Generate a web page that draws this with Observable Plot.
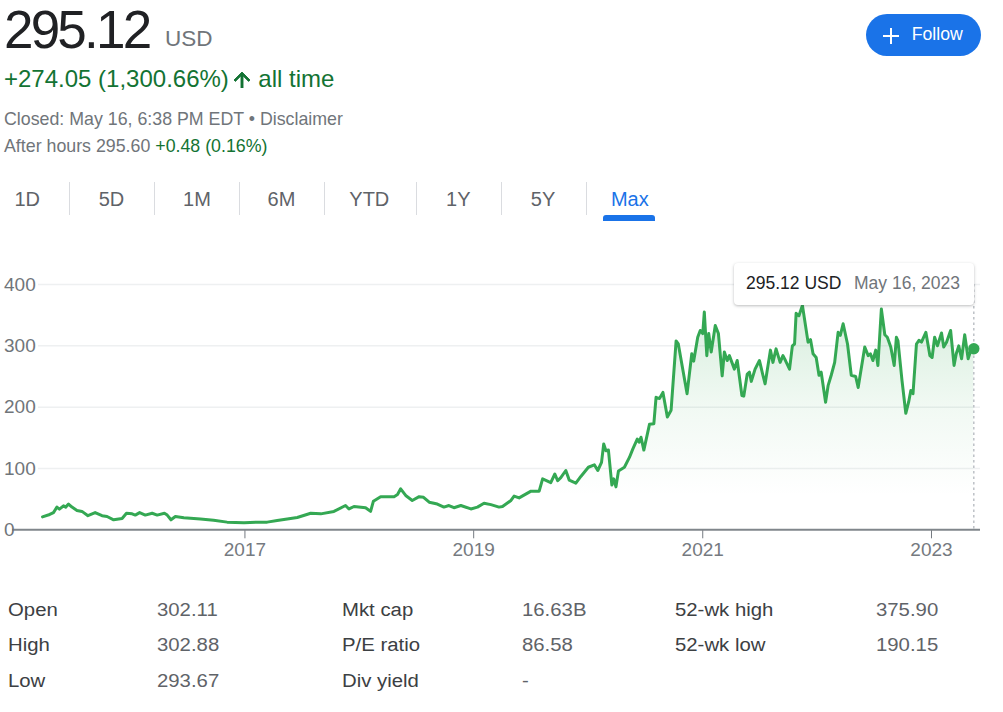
<!DOCTYPE html>
<html><head><meta charset="utf-8">
<script src="https://cdn.jsdelivr.net/npm/d3@7"></script>
<script src="https://cdn.jsdelivr.net/npm/@observablehq/plot@0.6"></script>
<style>
body{margin:0;width:1003px;height:712px;overflow:hidden;background:#fff;font-family:Arial,"Liberation Sans",sans-serif;position:relative}
.a{position:absolute;white-space:nowrap;line-height:1}
.sep{position:absolute;top:182px;width:1px;height:33px;background:#dadce0}
.tab{position:absolute;top:188.8px;width:80px;text-align:center;font-size:20px;color:#5f6368;line-height:1}
#chart{position:absolute;left:0;top:240px}
.lab{color:#3c4043}
.val{color:#5f6368}
.st{position:absolute;white-space:nowrap;line-height:1;font-size:18px;transform:scaleX(1.13);transform-origin:left center}
</style></head><body>
<div class="a" style="left:4px;top:3.4px;font-size:53px;color:#202124;letter-spacing:-2.8px">295.12</div>
<div class="a" style="left:165px;top:27.7px;font-size:22.5px;color:#70757a">USD</div>
<div class="a" style="left:4px;top:67.2px;font-size:24px;color:#137333">+274.05 (1,300.66%)</div>
<svg class="a" style="left:233px;top:71.5px" width="18" height="16" viewBox="4 4 16 16"><path d="M4 12l1.41 1.41L11 7.83V20h2V7.83l5.58 5.59L20 12l-8-8-8 8z" fill="#137333" stroke="#137333" stroke-width="0.9"/></svg>
<div class="a" style="left:258.3px;top:67.2px;font-size:24px;color:#137333">all time</div>
<div class="a" style="left:4px;top:110.9px;font-size:17.8px;color:#70757a">Closed: May 16, 6:38 PM EDT • Disclaimer</div>
<div class="a" style="left:4px;top:138.2px;font-size:17.8px;color:#70757a">After hours 295.60 <span style="color:#137333">+0.48 (0.16%)</span></div>

<div class="a" style="left:866px;top:14px;width:115px;height:42px;border-radius:21px;background:#1a73e8"></div>
<svg class="a" style="left:883px;top:28px" width="16" height="16"><path d="M8 0V16M0 8H16" stroke="#fff" stroke-width="2"/></svg>
<div class="a" style="left:911.7px;top:26px;font-size:17.7px;color:#fff">Follow</div>

<div id="tabs"></div>
<div id="chart"></div>
<div class="a" style="left:734px;top:263px;width:240px;height:42px;background:#fff;border-radius:4px;box-shadow:0 1px 3px rgba(60,64,67,.35)"></div>
<div class="a" style="left:746px;top:274.5px;font-size:17.5px;color:#202124">295.12 USD</div>
<div class="a" style="left:854px;top:274.5px;font-size:17.5px;color:#70757a">May 16, 2023</div>
<div id="stats"></div>
<script>
const dates = ["2015-03-27","2015-04-19","2015-05-01","2015-05-12","2015-05-20","2015-06-02","2015-06-09","2015-06-18","2015-06-29","2015-07-15","2015-07-31","2015-08-19","2015-09-11","2015-10-03","2015-10-19","2015-11-09","2015-12-06","2015-12-20",
"2016-01-07","2016-01-17","2016-01-31","2016-02-18","2016-03-11","2016-03-27","2016-04-19","2016-04-28","2016-05-10","2016-05-24","2016-06-20","2016-08-12","2016-09-23","2016-11-05","2016-12-29",
"2017-02-09","2017-03-13","2017-04-14","2017-06-17","2017-07-30","2017-08-31","2017-10-12","2017-11-18","2017-11-29","2017-12-15",
"2018-01-21","2018-02-06","2018-02-15","2018-03-10","2018-04-22","2018-05-03","2018-05-13","2018-05-29","2018-06-19","2018-07-11","2018-07-25","2018-08-12","2018-09-07","2018-09-28","2018-10-14","2018-10-30","2018-11-21","2018-12-23",
"2019-01-13","2019-02-03","2019-02-25","2019-03-23","2019-04-03","2019-04-30","2019-05-10","2019-05-26","2019-07-03","2019-07-29","2019-08-09","2019-09-04","2019-09-17","2019-09-26","2019-10-06","2019-10-22","2019-11-02","2019-11-23","2019-12-09",
"2020-01-02","2020-01-21","2020-02-01","2020-02-13","2020-02-20","2020-02-27","2020-03-06","2020-03-17","2020-03-23","2020-03-30","2020-04-07","2020-04-26","2020-05-12","2020-05-23","2020-06-06","2020-06-12","2020-06-18","2020-06-27","2020-07-15","2020-07-29","2020-08-05","2020-08-16","2020-08-27","2020-09-10","2020-09-22","2020-10-08","2020-10-15","2020-11-12","2020-11-27","2020-12-03","2020-12-16","2020-12-24",
"2021-01-01","2021-01-06","2021-01-14","2021-01-20","2021-01-28","2021-02-10","2021-02-20","2021-03-04","2021-03-11","2021-03-20","2021-03-27","2021-04-04","2021-04-12","2021-04-21","2021-05-06","2021-05-12","2021-05-23","2021-05-30","2021-06-05","2021-06-17","2021-07-01","2021-07-12","2021-07-19","2021-08-05","2021-08-13","2021-08-23","2021-09-05","2021-09-14","2021-09-22","2021-10-05","2021-10-14","2021-10-21","2021-10-26","2021-11-04","2021-11-15","2021-12-03","2021-12-11","2021-12-19","2021-12-29",
"2022-01-07","2022-01-14","2022-01-28","2022-02-05","2022-02-15","2022-02-26","2022-03-09","2022-03-16","2022-03-25","2022-04-08","2022-04-20","2022-05-04","2022-05-12","2022-06-02","2022-06-13","2022-06-20","2022-06-28","2022-07-07","2022-07-14","2022-07-25","2022-08-05","2022-08-13","2022-08-24","2022-09-04","2022-09-11","2022-09-16","2022-09-29","2022-10-11","2022-10-20","2022-10-27","2022-11-03","2022-11-14","2022-11-22","2022-11-30","2022-12-14","2022-12-27",
"2023-01-03","2023-01-11","2023-01-20","2023-02-02","2023-02-09","2023-02-18","2023-03-03","2023-03-14","2023-03-21","2023-03-29","2023-04-07","2023-04-17","2023-04-28","2023-05-06","2023-05-16"];
const prices = [21.07,25,28,37,33.6,39,37,42,37,31.5,30,23,28,23,21.7,16.3,18.4,27,
26,24,28,24,27,24,27,24,16.3,21.7,19.6,17.5,15.5,12.5,11.5,
12.4,12.5,15,20,27,26,30,39.6,34,38,
36,30,46.6,54,54,57.5,66.8,56,47.8,54,53,45,42,37,39.6,36,39.6,34,
37,43.4,41,37,38,47.8,55,52,63,63,83,77,91,80,85,96.7,81,76,87,
102,106,96.7,110,140,129,130,73,83,70,96,102,118,132,148,143,151,130,172,173,216,214,224,184,195,308,303,222,287,275,314,325,
320,355,284,320,290,333,320,251,290,276,284,273,262,276,219,218,254,257,242,262,276,252,238,293,273,295,273,284,276,262,300,303,353,349,366,306,310,287,281,
252,257,208,235,252,273,322,317,336,303,252,250,232,298,284,287,276,293,268,360,318,314,298,268,314,308,243,190,208,227,222,303,309,306,322,284,
281,314,300,321,298,306,325,268,287,300,279,318,279,292,295.12];
const yTicks = [0,100,200,300,400];
const xTicks = ["2017-01-01","2019-01-01","2021-01-01","2023-01-01"];
const tabs = ["1D","5D","1M","6M","YTD","1Y","5Y","Max"];
const statLabels = ["Open","High","Low","Mkt cap","P/E ratio","Div yield","52-wk high","52-wk low"];
const statValues = ["302.11","302.88","293.67","16.63B","86.58","-","375.90","190.15"];

// tabs
const tabCenters = [27.2,111.5,197,281.5,369.3,458.3,543,629.8];
const seps = [69.3,154.3,239.3,324.3,415.7,500.7,585.7];
const tabsEl = document.getElementById("tabs");
tabs.forEach((t,i)=>{
  const d=document.createElement("div");d.className="tab";d.textContent=t;
  d.style.left=(tabCenters[i]-40)+"px";
  if(t==="Max") d.style.color="#1a73e8";
  tabsEl.appendChild(d);
});
seps.forEach(x=>{const s=document.createElement("div");s.className="sep";s.style.left=x+"px";tabsEl.appendChild(s);});
const ul=document.createElement("div");
ul.style.cssText="position:absolute;left:603px;top:215px;width:52px;height:6px;background:#1a73e8;border-radius:3px 3px 0 0";
tabsEl.appendChild(ul);

// stats
const colX = [[8,157],[342,521.5],[675,876]];
const rowBase = [616,651.5,687];
const statsEl = document.getElementById("stats");
statLabels.forEach((l,i)=>{
  const c=Math.floor(i/3), r=i%3;
  if(c===2 && r===2) return;
  [[l,"lab",colX[c][0]],[statValues[i],"val",colX[c][1]]].forEach(([t,cls,x])=>{
    const d=document.createElement("div");d.className="st "+cls;d.textContent=t;
    d.style.left=x+"px";d.style.top=(rowBase[r]-15.2)+"px";statsEl.appendChild(d);
  });
});

const data = dates.map((d,i)=>({date:new Date(d+"T00:00:00Z"), price:prices[i]}));
const last = data[data.length-1];
const green = "#34a853";
const gradDefs = () => {
  const defs = d3.create("svg:defs");
  const g = defs.append("linearGradient").attr("id","fillGrad").attr("x1",0).attr("x2",0).attr("y1",0).attr("y2",1);
  g.append("stop").attr("offset",0).attr("stop-color",green).attr("stop-opacity",0.2);
  g.append("stop").attr("offset",0.45).attr("stop-color",green).attr("stop-opacity",0.07);
  g.append("stop").attr("offset",0.85).attr("stop-color",green).attr("stop-opacity",0);
  return defs.node();
};
const chart = Plot.plot({
  width:1003, height:330,
  marginTop:44, marginBottom:40.7, marginLeft:12, marginRight:23,
  style:{background:"transparent", fontFamily:"Arial, 'Liberation Sans', sans-serif", fontSize:"19px", color:"#757a80", overflow:"visible"},
  x:{type:"utc", domain:[data[0].date, last.date], range:[42,973.3], ticks:xTicks.map(d=>new Date(d+"T00:00:00Z")), tickFormat:"%Y", tickSize:9, tickPadding:4, label:null},
  y:{domain:[0,400], axis:null},
  marks:[
    gradDefs,
    Plot.ruleY(yTicks.filter(d=>d>0), {stroke:"#eef0f1", strokeWidth:1.5, insetLeft:26}),
    Plot.areaY(data, {x:"date", y:"price", fill:"url(#fillGrad)"}),
    Plot.ruleX([last.date], {stroke:"#bdc1c6", strokeWidth:1.5, strokeDasharray:"2.5,3"}),
    Plot.lineY(data, {x:"date", y:"price", stroke:green, strokeWidth:3, strokeLinejoin:"round"}),
    Plot.ruleY([0], {stroke:"#80868b", strokeWidth:2}),
    Plot.text(yTicks, {y:d=>d, text:d=>String(d), frameAnchor:"left", textAnchor:"start", dx:-8.5, fontSize:19, fill:"#70757a"}),
    Plot.dot([last], {x:"date", y:"price", r:5.7, fill:green})
  ]
});
document.getElementById("chart").appendChild(chart);
</script>
</body></html>
